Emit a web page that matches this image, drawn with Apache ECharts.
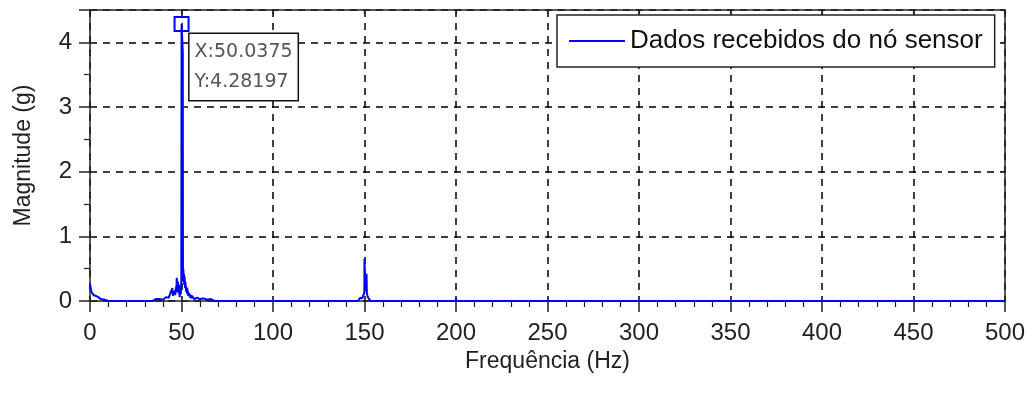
<!DOCTYPE html>
<html>
<head>
<meta charset="utf-8">
<script src="https://cdn.jsdelivr.net/npm/echarts@6/dist/echarts.min.js"></script>
<style>
html,body{margin:0;padding:0;background:#fff;}
#chart{width:1033px;height:403px;}
</style>
</head>
<body>
<div id="chart"></div>
<script>
// Spectrum data (frequency in Hz, magnitude in g)
const freq = [0, 0.2, 0.4, 0.6, 0.8, 1.0, 1.3, 1.6, 2.0, 2.4, 2.8, 3.2, 3.6, 4.0, 4.5, 5.0, 5.5, 6.0, 7.0, 8.0, 9.0, 10.0,
  26.7, 27.0, 27.3,
  31, 32, 32.5, 33, 34, 34.5, 35, 36, 36.5, 37, 38, 38.5, 39, 40, 40.5, 41, 41.5, 42, 42.5, 43, 43.5, 44, 44.5, 45, 45.3, 45.6, 46, 46.3, 46.6, 47, 47.2, 47.4, 47.7, 48, 48.3, 48.6, 49, 49.3, 49.6, 49.9,
  50.0375, 50.7, 50.8, 50.9, 51.0, 51.1, 51.3, 51.5, 51.7, 51.9, 52.1, 52.3, 52.5, 52.7, 52.9, 53.1, 53.3, 53.5, 53.7, 53.9, 54.2, 54.5, 54.8, 55.1, 55.4, 55.7, 56, 56.5, 57, 57.5, 58, 58.5, 59, 59.5, 60, 60.5, 61, 62, 62.5, 63, 64, 64.5, 65, 66, 66.5, 67, 68,
  99.7, 100, 100.3,
  146.5, 146.8, 147.2, 147.6, 148, 148.4, 148.8, 149.2, 149.6, 149.9, 150.0, 150.3, 150.6, 150.9, 151.1, 151.3, 151.6, 151.9, 152.2, 152.6, 153, 153.4,
  199.8, 200, 200.2,
  249.8, 250, 250.2,
  500];
const mag = [0.26, 0.24, 0.2, 0.17, 0.14, 0.13, 0.11, 0.12, 0.09, 0.1, 0.08, 0.08, 0.06, 0.05, 0.06, 0.04, 0.05, 0.03, 0.03, 0.02, 0.01, 0.0,
  0.0, 0.03, 0.0,
  0.0, 0.01, 0.0, 0.02, 0.0, 0.02, 0.01, 0.03, 0.0, 0.02, 0.03, 0.01, 0.04, 0.02, 0.05, 0.03, 0.06, 0.04, 0.07, 0.05, 0.09, 0.06, 0.1, 0.2, 0.08, 0.14, 0.1, 0.16, 0.09, 0.22, 0.14, 0.36, 0.2, 0.3, 0.12, 0.25, 0.06, 0.2, 0.1, 0.3,
  4.28197, 3.85, 0.45, 0.3, 0.5, 0.35, 0.42, 0.25, 0.38, 0.2, 0.3, 0.27, 0.15, 0.22, 0.12, 0.2, 0.1, 0.16, 0.08, 0.13, 0.07, 0.11, 0.05, 0.09, 0.04, 0.08, 0.05, 0.07, 0.03, 0.06, 0.03, 0.05, 0.02, 0.04, 0.03, 0.05, 0.02, 0.04, 0.02, 0.03, 0.02, 0.04, 0.01, 0.03, 0.02, 0.03, 0.0,
  0.0, 0.03, 0.0,
  0.0, 0.03, 0.02, 0.05, 0.03, 0.06, 0.04, 0.08, 0.06, 0.12, 0.65, 0.25, 0.3, 0.15, 0.42, 0.12, 0.08, 0.06, 0.04, 0.05, 0.02, 0.0,
  0.0, 0.04, 0.0,
  0.0, 0.02, 0.0,
  0.0];
const seriesName = 'Dados recebidos do nó sensor';
const tipX = 50.0375;
const tipY = 4.28197;
const xTickValues = [0, 50, 100, 150, 200, 250, 300, 350, 400, 450, 500];
const yTickValues = [0, 1, 2, 3, 4];

const chart = echarts.init(document.getElementById('chart'), null, {renderer: 'canvas'});
const fontFam = '"Liberation Sans", Arial, sans-serif';
const gridLine = {show: true, lineStyle: {color: '#000', width: 1.5, type: [7, 6]}};
const axisLn = {show: true, onZero: false, lineStyle: {color: '#222', width: 1.5}};

chart.setOption({
  animation: false,
  backgroundColor: '#fff',
  grid: {left: 90, right: 28, top: 10, bottom: 102, containLabel: false},
  legend: {
    show: true,
    left: 557, top: 15,
    padding: [12, 12, 12, 12],
    borderColor: '#222', borderWidth: 1.5,
    backgroundColor: '#fff',
    icon: 'rect', itemWidth: 56, itemHeight: 2, itemGap: 5,
    textStyle: {fontFamily: fontFam, fontSize: 26, color: '#111', lineHeight: 28},
    data: [seriesName]
  },
  xAxis: [{
    type: 'value', min: xTickValues[0], max: xTickValues[xTickValues.length - 1], interval: 50,
    axisLine: axisLn,
    axisTick: {show: true, inside: false, length: 11, lineStyle: {color: '#222', width: 1.5}},
    minorTick: {show: true, splitNumber: 5, length: 6, lineStyle: {color: '#222', width: 1.2}},
    splitLine: gridLine,
    axisLabel: {fontFamily: fontFam, fontSize: 24, color: '#222', margin: 20},
    name: 'Frequência (Hz)', nameLocation: 'middle', nameGap: 46,
    nameTextStyle: {fontFamily: fontFam, fontSize: 23, color: '#222'}
  }, {
    type: 'value', position: 'top', min: 0, max: 500, interval: 50,
    axisLine: axisLn,
    axisTick: {show: true, inside: true, length: 4, lineStyle: {color: '#222', width: 1.2}},
    axisLabel: {show: false}, splitLine: {show: false}
  }],
  yAxis: [{
    type: 'value', min: 0, max: 4.5, interval: 1,
    axisLine: axisLn,
    axisTick: {show: true, inside: false, length: 11, lineStyle: {color: '#222', width: 1.5}},
    minorTick: {show: true, splitNumber: 2, length: 6, lineStyle: {color: '#222', width: 1.2}},
    splitLine: gridLine,
    axisLabel: {fontFamily: fontFam, fontSize: 24, color: '#222', margin: 18, showMaxLabel: false,
      formatter: v => (yTickValues.indexOf(v) >= 0 ? String(v) : '')},
    name: 'Magnitude (g)', nameLocation: 'middle', nameGap: 55,
    nameTextStyle: {fontFamily: fontFam, fontSize: 23, color: '#222'}
  }, {
    type: 'value', position: 'right', min: 0, max: 4.5, interval: 1,
    axisLine: axisLn,
    axisTick: {show: true, inside: true, length: 4, lineStyle: {color: '#222', width: 1.2}},
    axisLabel: {show: false}, splitLine: {show: false}
  }],
  series: [{
    name: seriesName,
    type: 'line',
    xAxisIndex: 0, yAxisIndex: 0,
    data: freq.map((f, i) => [f, mag[i]]),
    showSymbol: false,
    color: '#0000ff',
    lineStyle: {color: '#0000ff', width: 2},
    z: 3,
    markPoint: {
      symbol: 'rect', symbolSize: 14,
      itemStyle: {color: 'rgba(255,255,255,0)', borderColor: '#0000ff', borderWidth: 2},
      label: {
        show: true,
        position: [16, 18], align: 'left', verticalAlign: 'top',
        formatter: () => 'X:' + tipX + '\nY:' + tipY,
        fontFamily: '"DejaVu Sans", sans-serif', fontSize: 19, color: '#555',
        lineHeight: 30,
        backgroundColor: '#fff', borderColor: '#111', borderWidth: 1.5,
        padding: [3, 5, 3, 5]
      },
      data: [{coord: [tipX, tipY], value: tipY}]
    }
  }]
});
</script>
</body>
</html>
